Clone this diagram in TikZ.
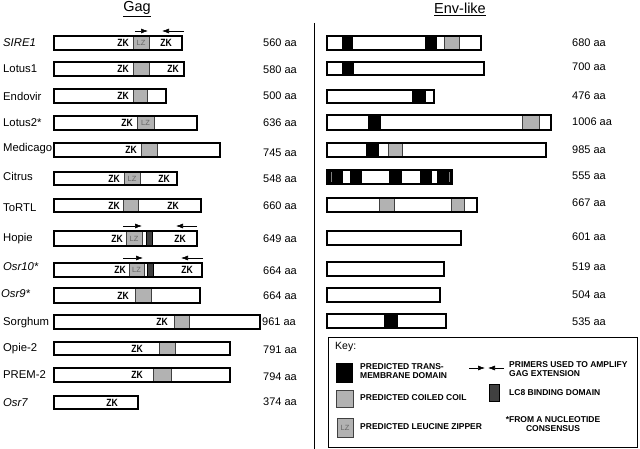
\documentclass[tikz,border=0pt]{standalone}
\usepackage{fontspec}
\setmainfont{Liberation Sans}
\newfontfamily\zkfont[FakeStretch=0.82]{Liberation Sans}
\usetikzlibrary{arrows.meta}

\begin{document}
\begin{tikzpicture}[x=1pt,y=-1pt]
  \tikzset{bar/.style={draw=black, line width=2.8pt}}
  \tikzset{coil/.style={fill=black!30, draw=black!75, line width=0.7pt}}
  \tikzset{tmd/.style={fill=black}}
  \tikzset{lceight/.style={fill=black!75, draw=black, line width=0.5pt}}
  \tikzset{zk/.style={font=\zkfont\bfseries\fontsize{10.5}{10.5}\selectfont, inner sep=0pt}}
  \tikzset{lz/.style={font=\fontsize{7.5}{7.5}\selectfont, text=black!60, inner sep=0pt}}
  \tikzset{elname/.style={anchor=west, font=\fontsize{11.3}{11}\selectfont, inner sep=0pt}}
  \tikzset{aalen/.style={anchor=west, font=\fontsize{11}{11}\selectfont, inner sep=0pt}}
  \tikzset{heading/.style={font=\fontsize{14.5}{14}\selectfont, inner sep=0pt}}
  \tikzset{keytext/.style={anchor=west, align=left, font=\bfseries\fontsize{8.5}{9}\selectfont, inner sep=0pt}}
  \tikzset{primer/.style={-{Latex[length=7pt,width=5pt]}, line width=0.6pt}}

\useasboundingbox (0,0) rectangle (640,449);

\node[heading] (gag) at (137,9) {\underline{Gag}};
\node[heading] (env) at (460,9) {\underline{Env-like}};
\draw[line width=1pt] (314,23) -- (314,449);

% Gag
\node[elname] (sire) at (3,43) {\itshape SIRE1};
   \filldraw[coil] (133,36) rectangle (149,50);
   \draw[bar] (54,36) rectangle (182,50);
   \node[zk] at (123,43) {ZK};
   \node[lz] at (141,43) {LZ};
   \node[zk] at (166,43) {ZK};
   \coordinate (sireA) at (135,31); \coordinate (sireB) at (148,31);
   \coordinate (sireC) at (184,31); \coordinate (sireD) at (162,31);
   \draw[primer] (sireA) -- (sireB);
   \draw[primer] (sireC) -- (sireD);
\node[aalen] (sireL) at (263,43) {560 aa};

\node[elname] (lotusone) at (3,69) {Lotus1};
   \filldraw[coil] (133,62) rectangle (149,76);
   \draw[bar] (54,62) rectangle (184,76);
   \node[zk] at (123,69) {ZK};
   \node[zk] at (173,69) {ZK};
\node[aalen] (lotusoneL) at (263,70) {580 aa};

\node[elname] (endo) at (3,96) {Endovir};
   \filldraw[coil] (133,89) rectangle (147,103);
   \draw[bar] (54,89) rectangle (166,103);
   \node[zk] at (123,96) {ZK};
\node[aalen] (endoL) at (263,96) {500 aa};

\node[elname] (lotustwo) at (3,123) {Lotus2*};
   \filldraw[coil] (137,116) rectangle (154,130);
   \draw[bar] (54,116) rectangle (197,130);
   \node[zk] at (127,123) {ZK};
   \node[lz] at (145.5,123) {LZ};
\node[aalen] (lotustwoL) at (263,123) {636 aa};

\node[elname] (medi) at (3,149) {Medicago};
   \filldraw[coil] (141,143) rectangle (157,157);
   \draw[bar] (54,143) rectangle (220,157);
   \node[zk] at (131,150) {ZK};
\node[aalen] (mediL) at (263,153) {745 aa};

\node[elname] (citrus) at (3,176) {Citrus};
   \filldraw[coil] (124,172) rectangle (140,185);
   \draw[bar] (54,172) rectangle (177,185);
   \node[zk] at (114,178.5) {ZK};
   \node[lz] at (132,178.5) {LZ};
   \node[zk] at (164,178.5) {ZK};
\node[aalen] (citrusL) at (263,179) {548 aa};

\node[elname] (tortl) at (3,208) {ToRTL};
   \filldraw[coil] (123,199) rectangle (138,212);
   \draw[bar] (54,199) rectangle (201,212);
   \node[zk] at (114,205.5) {ZK};
   \node[zk] at (173,205.5) {ZK};
\node[aalen] (tortlL) at (263,206) {660 aa};

\node[elname] (hopie) at (3,239) {Hopie};
   \filldraw[coil] (126,231) rectangle (142,246);
   \filldraw[lceight] (146,231) rectangle (152,246);
   \draw[bar] (54,231) rectangle (197,246);
   \node[zk] at (117,238.5) {ZK};
   \node[lz] at (134,238.5) {LZ};
   \node[zk] at (180,238.5) {ZK};
   \coordinate (hopieA) at (123,226); \coordinate (hopieB) at (142,226);
   \coordinate (hopieC) at (197,226); \coordinate (hopieD) at (176,226);
   \draw[primer] (hopieA) -- (hopieB);
   \draw[primer] (hopieC) -- (hopieD);
\node[aalen] (hopieL) at (263,239) {649 aa};

\node[elname] (osrten) at (3,267) {\itshape Osr10*};
   \filldraw[coil] (129,263) rectangle (144,277);
   \filldraw[lceight] (147,263) rectangle (153,277);
   \draw[bar] (54,263) rectangle (202,277);
   \node[zk] at (120,270) {ZK};
   \node[lz] at (136.5,270) {LZ};
   \node[zk] at (187,270) {ZK};
   \coordinate (osrtenA) at (123,258); \coordinate (osrtenB) at (143,258);
   \coordinate (osrtenC) at (203,258); \coordinate (osrtenD) at (181,258);
   \draw[primer] (osrtenA) -- (osrtenB);
   \draw[primer] (osrtenC) -- (osrtenD);
\node[aalen] (osrtenL) at (263,271) {664 aa};

\node[elname] (osrnine) at (1,294) {\itshape Osr9*};
   \filldraw[coil] (135,288) rectangle (151,303);
   \draw[bar] (54,288) rectangle (200,303);
   \node[zk] at (123,296) {ZK};
\node[aalen] (osrnineL) at (263,296) {664 aa};

\node[elname] (sorghum) at (3,323) {Sorghum};
   \filldraw[coil] (174,315) rectangle (189,329);
   \draw[bar] (54,315) rectangle (260,329);
   \node[zk] at (162,322) {ZK};
\node[aalen] (sorghumL) at (262,322) {961 aa};

\node[elname] (opie) at (3,349) {Opie-2};
   \filldraw[coil] (159,342) rectangle (175,355);
   \draw[bar] (54,342) rectangle (230,355);
   \node[zk] at (137,348.5) {ZK};
\node[aalen] (opieL) at (263,350) {791 aa};

\node[elname] (prem) at (3,375) {PREM-2};
   \filldraw[coil] (153,368) rectangle (171,382);
   \draw[bar] (54,368) rectangle (230,382);
   \node[zk] at (137,375) {ZK};
\node[aalen] (premL) at (263,377) {794 aa};

\node[elname] (osrseven) at (3,403) {\itshape Osr7};
   \draw[bar] (54,396) rectangle (138,409);
   \node[zk] at (112,402.5) {ZK};
\node[aalen] (osrsevenL) at (263,402) {374 aa};

% Env-like
   \fill[tmd] (342,36) rectangle (353,50);
   \fill[tmd] (425,36) rectangle (437,50);
   \filldraw[coil] (444,36) rectangle (459,50);
   \draw[bar] (327,36) rectangle (481,50);
\node[aalen] (envone) at (572,43) {680 aa};

   \fill[tmd] (342,62) rectangle (354,75);
   \draw[bar] (327,62) rectangle (484,75);
\node[aalen] (envtwo) at (572,67) {700 aa};

   \fill[tmd] (412,90) rectangle (426,103);
   \draw[bar] (327,90) rectangle (434,103);
\node[aalen] (envthree) at (572,96) {476 aa};

   \fill[tmd] (368,115) rectangle (381,130);
   \filldraw[coil] (522,115) rectangle (539,130);
   \draw[bar] (327,115) rectangle (551,130);
\node[aalen] (envfour) at (572,122) {1006 aa};

   \fill[tmd] (366,143) rectangle (379,157);
   \filldraw[coil] (388,143) rectangle (402,157);
   \draw[bar] (327,143) rectangle (546,157);
\node[aalen] (envfive) at (572,150) {985 aa};

   \fill[tmd] (327,170) rectangle (452,184);
   \fill[white] (343,170) rectangle (350,184);
   \fill[white] (362,170) rectangle (389,184);
   \fill[white] (402,170) rectangle (420,184);
   \fill[white] (432,170) rectangle (437,184);
   \draw[black!50, line width=0.6pt] (331,172) -- (331,182);
   \draw[black!50, line width=0.6pt] (449,172) -- (449,182);
   \draw[bar] (327,170) rectangle (452,184);
\node[aalen] (envsix) at (572,176) {555 aa};

   \filldraw[coil] (379,198) rectangle (394,212);
   \filldraw[coil] (451,198) rectangle (464,212);
   \draw[bar] (327,198) rectangle (477,212);
\node[aalen] (envseven) at (572,203) {667 aa};

   \draw[bar] (327,231) rectangle (461,245);
\node[aalen] (enveight) at (572,237) {601 aa};

   \draw[bar] (327,262) rectangle (444,276);
\node[aalen] (envnine) at (572,267) {519 aa};

   \draw[bar] (327,288) rectangle (440,302);
\node[aalen] (envten) at (572,295) {504 aa};

   \fill[tmd] (384,314) rectangle (398,328);
   \draw[bar] (327,314) rectangle (446,328);
\node[aalen] (enveleven) at (572,322) {535 aa};

% Key
\draw[line width=1pt] (328,337) rectangle (637,447);
\node[anchor=west, inner sep=0pt, font=\fontsize{10.5}{10.5}\selectfont] (key) at (335,347) {Key:};
   \fill[tmd] (336,363) rectangle (353,383);
   \node[keytext] (keytm) at (360,371.5) {PREDICTED TRANS-\\MEMBRANE DOMAIN};
   \filldraw[coil] (336,390) rectangle (353,407);
   \node[keytext] (keycc) at (360,398) {PREDICTED COILED COIL};
   \filldraw[coil] (337,418) rectangle (353,437);
   \node[lz] at (345,427.5) {LZ};
   \node[keytext] (keylz) at (360,427) {PREDICTED LEUCINE ZIPPER};
   \coordinate (keyA) at (469,368); \coordinate (keyB) at (485,368);
   \coordinate (keyC) at (504,368); \coordinate (keyD) at (488,368);
   \draw[primer] (keyA) -- (keyB);
   \draw[primer] (keyC) -- (keyD);
   \node[keytext] (keypr) at (509,369.5) {PRIMERS USED TO AMPLIFY\\GAG EXTENSION};
   \filldraw[lceight] (489,384) rectangle (499,401);
   \node[keytext] (keylc) at (509,393) {LC8 BINDING DOMAIN};
   \node[keytext, anchor=center, align=center] (keyns) at (553,424.5) {*FROM A NUCLEOTIDE\\CONSENSUS};
\end{tikzpicture}
\end{document}
